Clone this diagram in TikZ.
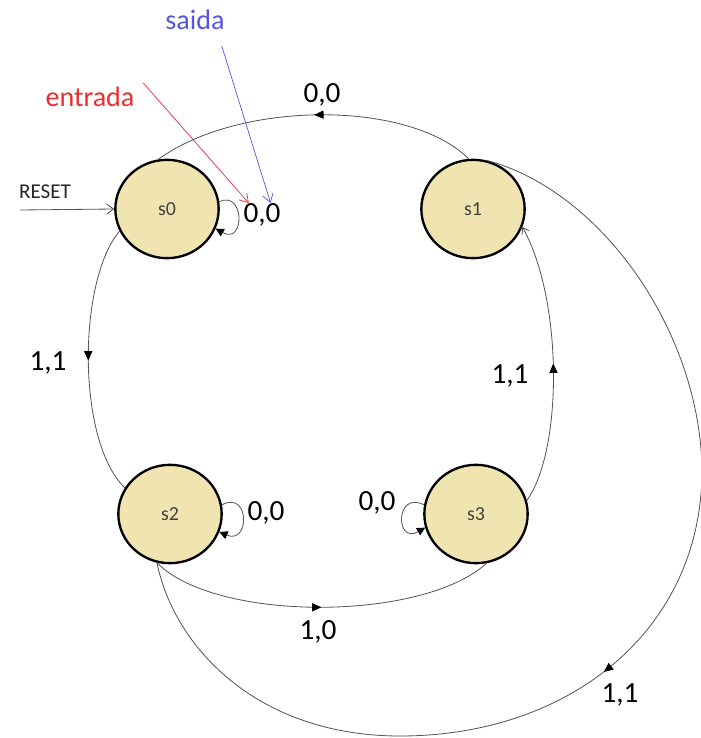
\documentclass[tikz,border=0pt]{standalone}
\usepackage{fontspec}
\setmainfont{Carlito}
\usepackage{xcolor}
\usepackage{tikz}
\usetikzlibrary{shapes.geometric, arrows.meta, positioning, decorations.markings}
\definecolor{statefill}{RGB}{240, 228, 176}
\definecolor{edgegray}{RGB}{85, 85, 85}
\definecolor{entradared}{RGB}{235, 45, 50}
\definecolor{saidablue}{RGB}{85, 85, 225}

\begin{document}
\begin{tikzpicture}[
    x=0.03cm, y=-0.03cm,
    state/.style={ellipse, minimum width=3.1cm, minimum height=2.95cm, fill=statefill, draw=black, line width=2pt, font=\fontsize{17}{20}\selectfont, text=black!75},
    trans/.style={draw=edgegray, line width=0.7pt},
    midarrow/.style={postaction={decorate}, decoration={markings, mark=at position #1 with {\arrow[black]{Triangle[length=8pt,width=7pt]}}}},
    looptip/.style={-{Triangle[length=7pt,width=7pt,color=black]}},
    lbl/.style={font=\fontsize{25}{28}\selectfont},
    note/.style={line width=0.6pt, -{Straight Barb[length=7pt,width=9pt]}}
]
\useasboundingbox (0,0) rectangle (700,738);

% States
\node[state] (s0) at (167,209) {s0};
\node[state] (s1) at (473,209) {s1};
\node[state] (s2) at (170,514) {s2};
\node[state] (s3) at (476,514) {s3};

% Reset
\coordinate (rstart) at (20,210);
\draw[trans, -{Straight Barb[length=6pt,width=9pt]}] (rstart) -- (s0.west);
\node[font=\fontsize{18}{20}\selectfont, text=black!85] (reset) at (45,192) {RESET};

% Transitions
\draw[trans, midarrow=0.5] (s1.95) .. controls (410,100) and (240,100) .. (s0.100);
\draw[trans, midarrow=0.5] (s0.205) .. controls (78,280) and (76,440) .. (s2.150);
\draw[trans, midarrow=0.5] (s2.-105) .. controls (215,622) and (422,622) .. (s3.-78);
\draw[trans, midarrow=0.5, -{Straight Barb[length=5pt,width=7pt]}] (s3.15) .. controls (563,450) and (563,300) .. (s1.-20);
\draw[trans, midarrow=0.54] (s1.75) .. controls (600,190) and (700,330) .. (702,470)
    .. controls (702,630) and (570,736) .. (400,736)
    .. controls (260,736) and (175,650) .. (s2.-105);

% Self loops
\draw[trans, looptip] (s0.8) .. controls (245,190) and (245,245) .. (s0.-22);
\draw[trans, looptip] (s2.10) .. controls (250,490) and (250,545) .. (s2.-20);
\draw[trans, looptip] (s3.170) .. controls (395,490) and (395,545) .. (s3.195);

% Labels
\node[lbl] (l10) at (322,95) {0,0};
\node[lbl] (l00) at (262,215) {0,0};
\node[lbl] (l02) at (48,363) {1,1};
\node[lbl] (l31) at (510,376) {1,1};
\node[lbl] (l22) at (266,513) {0,0};
\node[lbl] (l33) at (377,503) {0,0};
\node[lbl] (l23) at (318,632) {1,0};
\node[lbl] (l12) at (620,695) {1,1};

% Notes
\node[lbl, font=\fontsize{24}{28}\selectfont, text=entradared] (entrada) at (90,97) {entrada};
\node[lbl, font=\fontsize{24}{28}\selectfont, text=saidablue] (saida) at (195,20) {saida};
\draw[note, entradared] ([xshift=4pt]entrada.north east) -- ([xshift=8pt,yshift=-3pt]l00.north west);
\draw[note, saidablue] ([xshift=-6pt,yshift=-10pt]saida.south east) -- ([xshift=-12pt,yshift=-3pt]l00.north east);
\end{tikzpicture}
\end{document}
